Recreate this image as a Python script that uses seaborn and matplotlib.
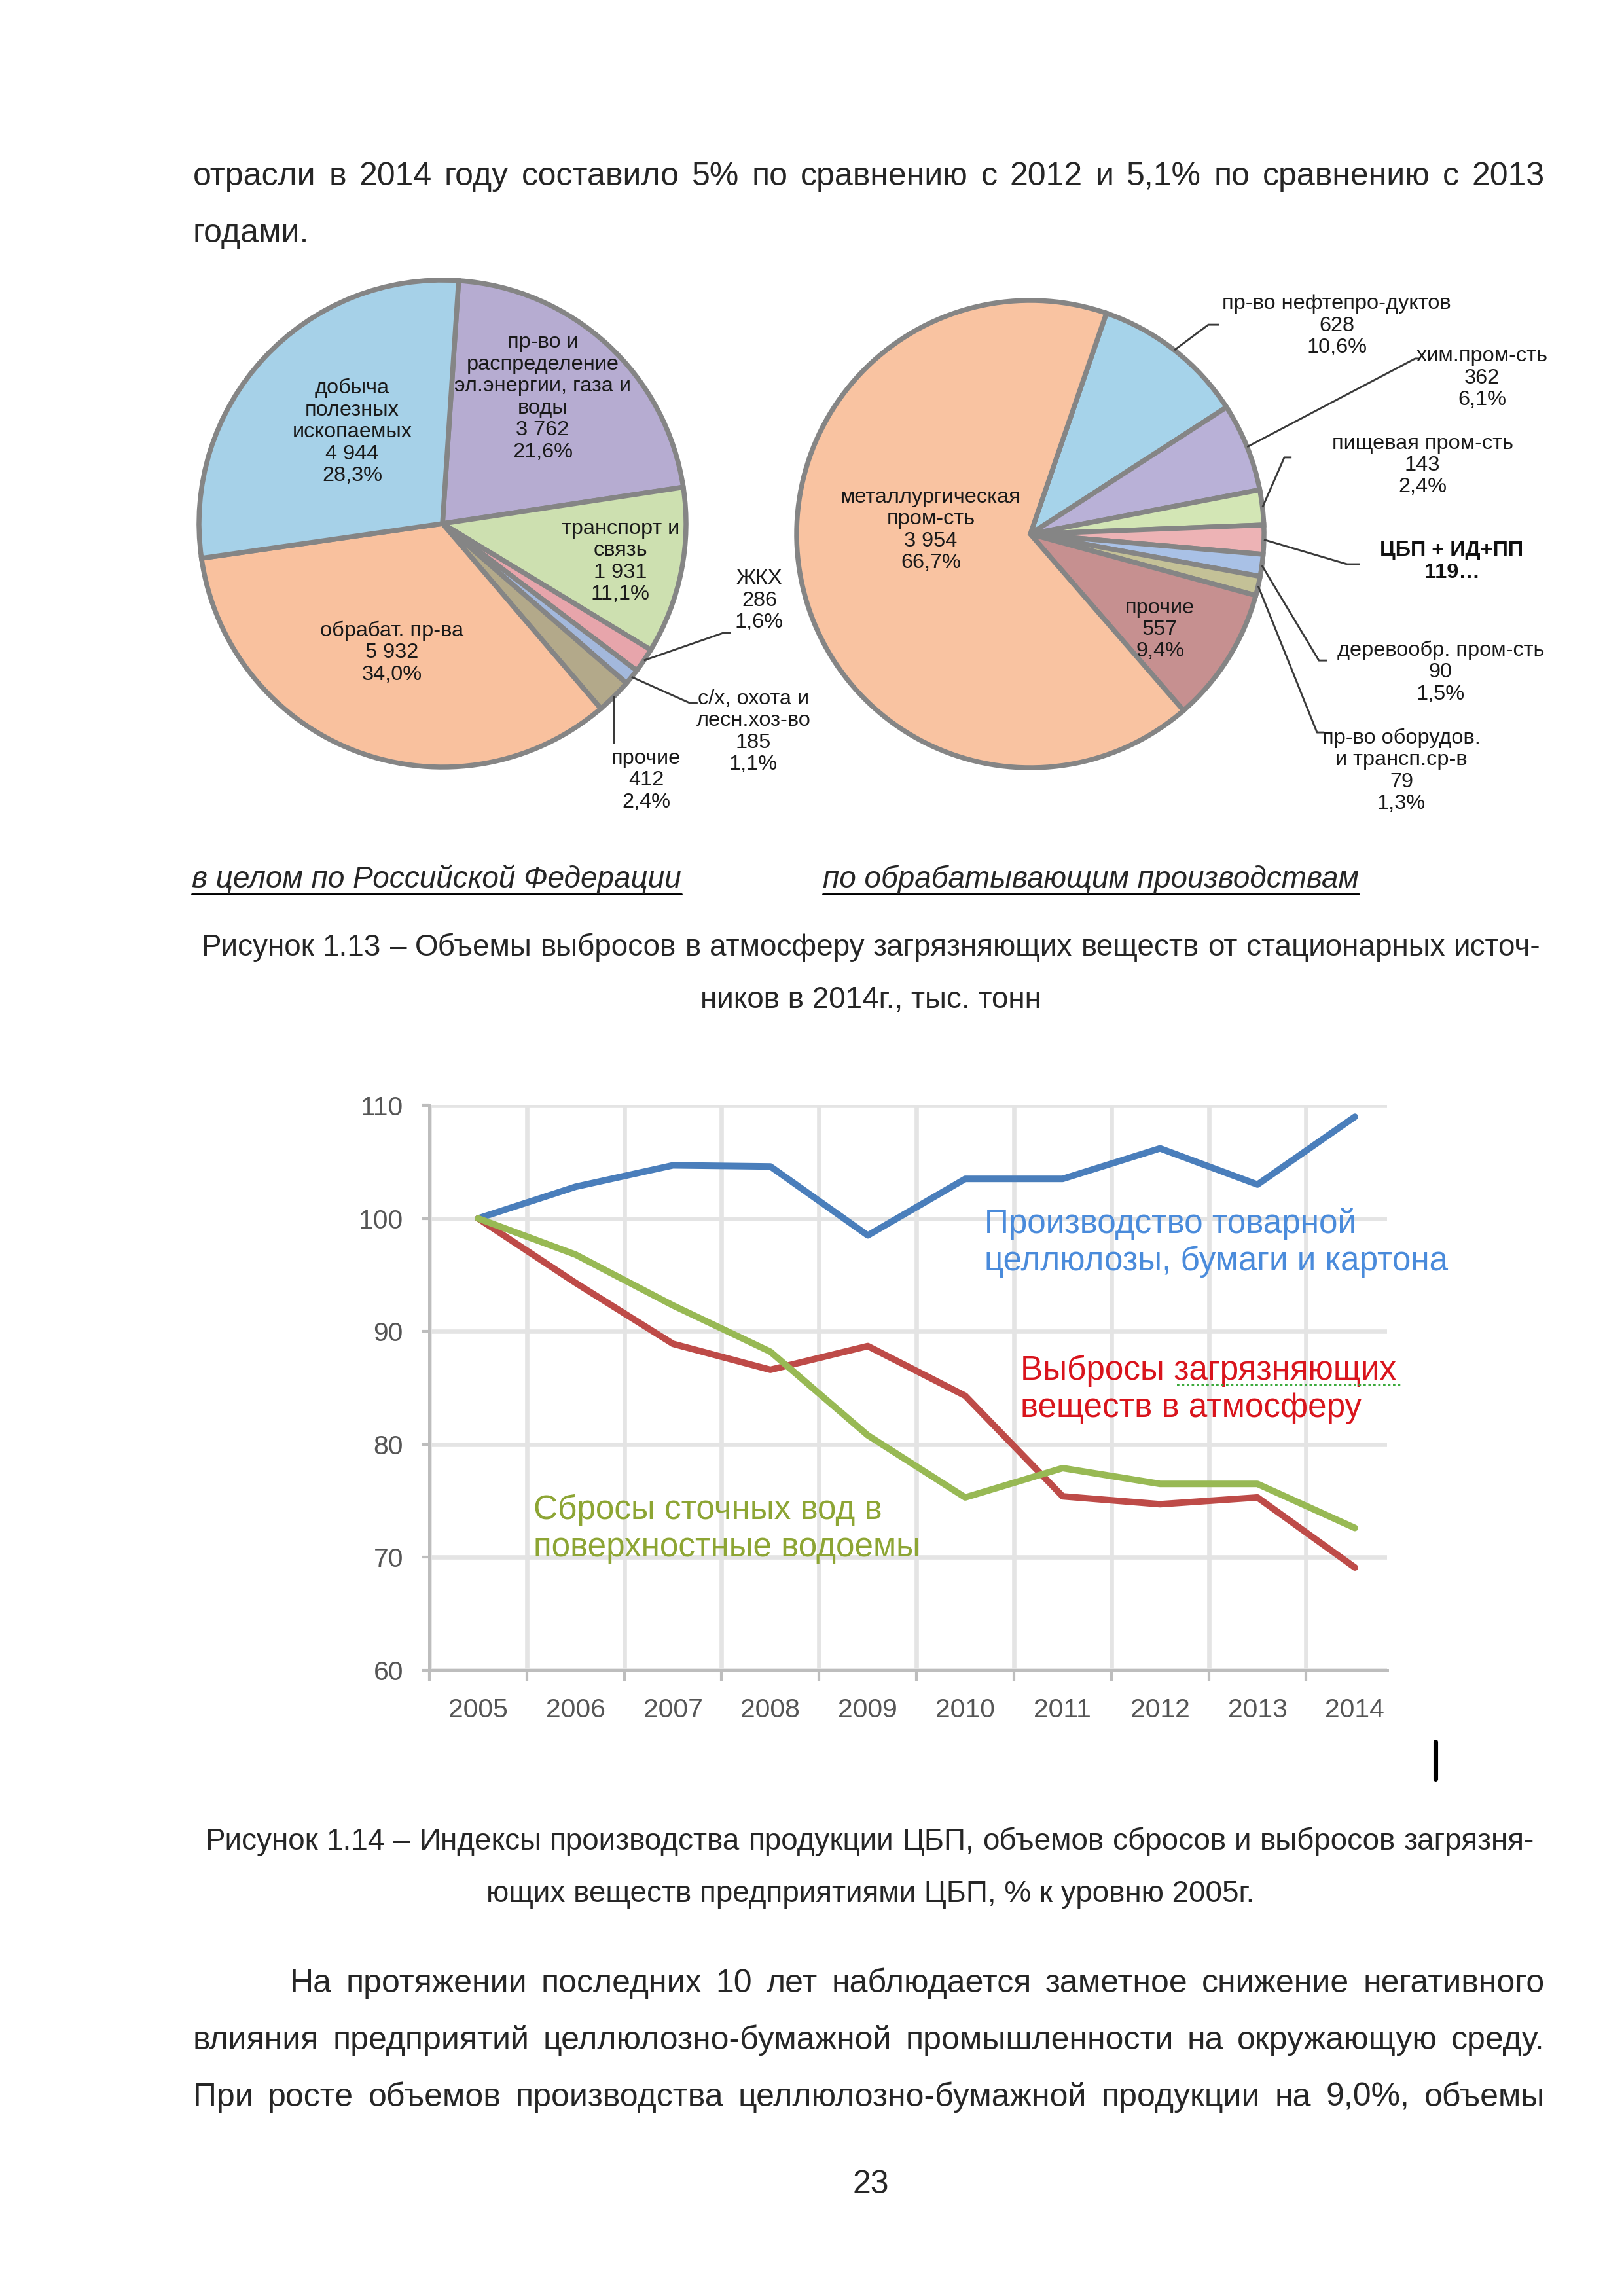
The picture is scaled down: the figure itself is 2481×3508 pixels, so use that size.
import matplotlib
matplotlib.use('Agg')
import matplotlib.pyplot as plt
from matplotlib.lines import Line2D
import numpy as np
import pandas as pd
import seaborn as sns

W, H = 2481, 3508

# --- pie 1: emissions, Russia total, thousand t ---
rf_names = ['пр-во и\nраспределение\nэл.энергии, газа и\nводы', 'транспорт и\nсвязь', 'ЖКХ',
            'с/х, охота и\nлесн.хоз-во', 'прочие', 'обрабат. пр-ва', 'добыча\nполезных\nископаемых']
rf_values = [3762, 1931, 286, 185, 412, 5932, 4944]
rf_colors = ['#B6ACD1', '#CDE0B0', '#E7A5AB', '#A3B8DC', '#B3A98A', '#F9C19E', '#A6D1E8']

# --- pie 2: manufacturing ---
mf_names = ['пр-во нефтепро-дуктов', 'хим.пром-сть', 'пищевая пром-сть', 'ЦБП + ИД+ПП',
            'деревообр. пром-сть', 'пр-во оборудов.\nи трансп.ср-в', 'прочие', 'металлургическая\nпром-сть']
mf_values = [628, 362, 143, 119, 90, 79, 557, 3954]
mf_colors = ['#A6D3EA', '#B9B1D7', '#D3E6B5', '#EDB3B5', '#A9C1E6', '#C4C197', '#C69090', '#F9C3A1']

# --- line chart: indices, % of 2005 ---
years = ['2005', '2006', '2007', '2008', '2009', '2010', '2011', '2012', '2013', '2014']
prod_idx = [100, 102.8, 104.7, 104.6, 98.5, 103.5, 103.5, 106.2, 103.0, 109.0]
air_idx = [100, 94.3, 88.9, 86.6, 88.7, 84.3, 75.4, 74.7, 75.3, 69.1]
water_idx = [100, 96.8, 92.3, 88.2, 80.8, 75.3, 77.9, 76.5, 76.5, 72.6]

sns.set_theme(style='white')
plt.rcParams['font.family'] = ['Liberation Sans', 'DejaVu Sans']

fig = plt.figure(figsize=(W / 300, H / 300), dpi=300)
fig.patch.set_facecolor('white')


def fx(px):
  return px / W


def fy(py):
  return 1 - py / H


def justify(text, x0, x1, yb, size, **kw):
  words = text.split(' ')
  arts = [fig.text(fx(x0), fy(yb), w, fontsize=size, va='baseline', ha='left', **kw) for w in words]
  r = fig.canvas.get_renderer()
  widths = [a.get_window_extent(r).width for a in arts]
  gap = (x1 - x0 - sum(widths)) / max(len(words) - 1, 1)
  x = x0
  for a, w in zip(arts, widths):
    a.set_x(fx(x))
    x += w + gap


def fmt_num(v):
  return f'{v:,}'.replace(',', ' ')


def fmt_pct(v, total):
  return f'{v / total * 100:.1f}%'.replace('.', ',')


def draw_pie(rect, values, colors, start):
  ax = fig.add_axes(rect)
  wedges, _ = ax.pie(values, colors=colors, startangle=start, counterclock=False, radius=1,
                     wedgeprops=dict(edgecolor='#858585', linewidth=1.8))
  ax.set_xlim(-1, 1)
  ax.set_ylim(-1, 1)
  ax.set_aspect('equal')
  ax.axis('off')
  return ax, wedges


def leader(ax, wedge, pts):
  a = np.deg2rad((wedge.theta1 + wedge.theta2) / 2)
  xs = [np.cos(a)] + [p[0] for p in pts]
  ys = [np.sin(a)] + [p[1] for p in pts]
  ax.plot(xs, ys, color='#3a3a3a', lw=0.7, clip_on=False, solid_capstyle='butt')


# ---------- page text ----------
justify('отрасли в 2014 году составило 5% по сравнению с 2012 и 5,1% по сравнению с 2013',
        295, 2360, 283, 12)
fig.text(fx(295), fy(370), 'годами.', fontsize=12, va='baseline')

# ---------- left pie ----------
r1 = 372
ax1, w1 = draw_pie([fx(676 - r1), fy(800 + r1), 2 * r1 / W, 2 * r1 / H], rf_values, rf_colors, 86.2)
tot1 = sum(rf_values)
rf_pos = [(0.411, 0.519), (0.731, -0.156), (1.301, -0.317), (1.277, -0.855),
          (0.836, -1.054), (-0.207, -0.53), (-0.371, 0.376)]
for name, v, (x, y) in zip(rf_names, rf_values, rf_pos):
  ax1.text(x, y, f'{name}\n{fmt_num(v)}\n{fmt_pct(v, tot1)}', ha='center', va='center',
           fontsize=7.8, linespacing=1.15, color='#1a1a1a', clip_on=False)
leader(ax1, w1[2], [(1.153, -0.449), (1.185, -0.449)])
leader(ax1, w1[3], [(1.016, -0.737), (1.048, -0.737)])
leader(ax1, w1[4], [(0.704, -0.905)])

# ---------- right pie ----------
r2 = 357
ax2, w2 = draw_pie([fx(1574 - r2), fy(816 + r2), 2 * r2 / W, 2 * r2 / H], mf_values, mf_colors, 71)
tot2 = sum(mf_values)
mf_pos = [(1.311, 0.891), (1.933, 0.667), (1.678, 0.294), (1.804, -0.118),
          (1.756, -0.591), (1.588, -1.014), (0.555, -0.409), (-0.426, 0.017)]
for name, v, (x, y) in zip(mf_names, mf_values, mf_pos):
  if name.startswith('ЦБП'):
    ax2.text(x, y, f'{name}\n{v}…', ha='center', va='center', fontsize=7.8, linespacing=1.15,
             fontweight='bold', color='#111111', clip_on=False)
  else:
    ax2.text(x, y, f'{name}\n{fmt_num(v)}\n{fmt_pct(v, tot2)}', ha='center', va='center',
             fontsize=7.8, linespacing=1.15, color='#1a1a1a', clip_on=False)
mf_leaders = [[(0.762, 0.896), (0.807, 0.896)], [(1.647, 0.751), (1.667, 0.751)],
              [(1.087, 0.328), (1.118, 0.328)], [(1.356, -0.129), (1.409, -0.129)],
              [(1.235, -0.541), (1.269, -0.541)], [(1.227, -0.849), (1.258, -0.849)]]
for wd, pts in zip(w2[:6], mf_leaders):
  leader(ax2, wd, pts)

# ---------- pie captions ----------
r = fig.canvas.get_renderer()
for txt, x0 in [('в целом по Российской Федерации', 293), ('по обрабатывающим производствам', 1257)]:
  t = fig.text(fx(x0), fy(1356), txt, fontsize=11, style='italic', va='baseline')
  bb = t.get_window_extent(r)
  fig.add_artist(Line2D([bb.x0 / W, bb.x1 / W], [fy(1366), fy(1366)], color='black', lw=0.7))

justify('Рисунок 1.13 – Объемы выбросов в атмосферу загрязняющих веществ от стационарных источ-',
        307, 2353, 1460, 11)
fig.text(fx(1330), fy(1540), 'ников в 2014г., тыс. тонн', fontsize=11, ha='center', va='baseline')

# ---------- line chart ----------
ax = fig.add_axes([fx(656), fy(2552), (2119 - 656) / W, (2552 - 1689) / H])
df = pd.DataFrame({
  'pos': list(range(len(years))) * 3,
  'value': prod_idx + air_idx + water_idx,
  'series': ['prod'] * len(years) + ['air'] * len(years) + ['water'] * len(years),
})
pal = {'prod': '#4A7EBB', 'air': '#BE4B48', 'water': '#98B954'}
sns.lineplot(data=df, x='pos', y='value', hue='series', palette=pal, linewidth=2.4,
             legend=False, sort=False, ax=ax)
ax.set_xlim(-0.5, 9.33)
ax.set_ylim(60, 110)
ax.set_yticks(range(60, 111, 10))
ax.set_xticks(range(len(years)))
ax.set_xticklabels(years)
ax.set_xticks(np.arange(-0.5, 9, 1), minor=True)
ax.set_xlabel('')
ax.set_ylabel('')
ax.grid(which='major', axis='y', color='#e4e4e4', lw=1.6)
ax.grid(which='minor', axis='x', color='#e4e4e4', lw=1.6)
ax.set_axisbelow(True)
for s in ['top', 'right']:
  ax.spines[s].set_visible(False)
for s in ['left', 'bottom']:
  ax.spines[s].set_color('#bdbdbd')
  ax.spines[s].set_linewidth(1.2)
ax.tick_params(axis='x', which='major', length=0, pad=10, labelsize=9.8, labelcolor='#555555')
ax.tick_params(axis='x', which='minor', length=4, width=1, color='#bdbdbd', bottom=True)
ax.tick_params(axis='y', length=2.6, width=1, color='#bdbdbd', left=True, pad=7,
               labelsize=9.8, labelcolor='#555555')

ax.text(5.2, 98.7, 'Производство товарной', color='#4A8BDB', fontsize=12.3,
        va='baseline', clip_on=False)
ax.text(5.2, 95.4, 'целлюлозы, бумаги и картона', color='#4A8BDB', fontsize=12.3,
        va='baseline', clip_on=False)
ax.text(5.57, 85.7, 'Выбросы загрязняющих', color='#D9141C', fontsize=12.3,
        va='baseline', clip_on=False)
ax.text(5.57, 82.4, 'веществ в атмосферу', color='#D9141C', fontsize=12.3,
        va='baseline', clip_on=False)
ax.text(0.57, 73.4, 'Сбросы сточных вод в', color='#8DA534', fontsize=12.3,
        va='baseline', clip_on=False)
ax.text(0.57, 70.1, 'поверхностные водоемы', color='#8DA534', fontsize=12.3,
        va='baseline', clip_on=False)

# spell-check squiggle and text cursor
fig.add_artist(Line2D([fx(1798), fx(2143)], [fy(2116), fy(2116)], color='#3DAA3D', lw=0.9,
                      linestyle=(0, (1, 1))))
fig.add_artist(Line2D([fx(2193), fx(2193)], [fy(2661), fy(2718)], color='black', lw=1.7))

# ---------- figure 1.14 caption and paragraph ----------
justify('Рисунок 1.14 – Индексы производства продукции ЦБП, объемов сбросов и выбросов загрязня-',
        313, 2344, 2826, 11)
fig.text(fx(1330), fy(2906), 'ющих веществ предприятиями ЦБП, % к уровню 2005г.', fontsize=11,
         ha='center', va='baseline')

justify('На протяжении последних 10 лет наблюдается заметное снижение негативного', 443, 2360, 3044, 12)
justify('влияния предприятий целлюлозно-бумажной промышленности на окружающую среду.', 295, 2360, 3131, 12)
justify('При росте объемов производства целлюлозно-бумажной продукции на 9,0%, объемы', 295, 2360, 3218, 12)

fig.text(fx(1330), fy(3351), '23', fontsize=12, ha='center', va='baseline')

fig.savefig('out.png', dpi=300)
